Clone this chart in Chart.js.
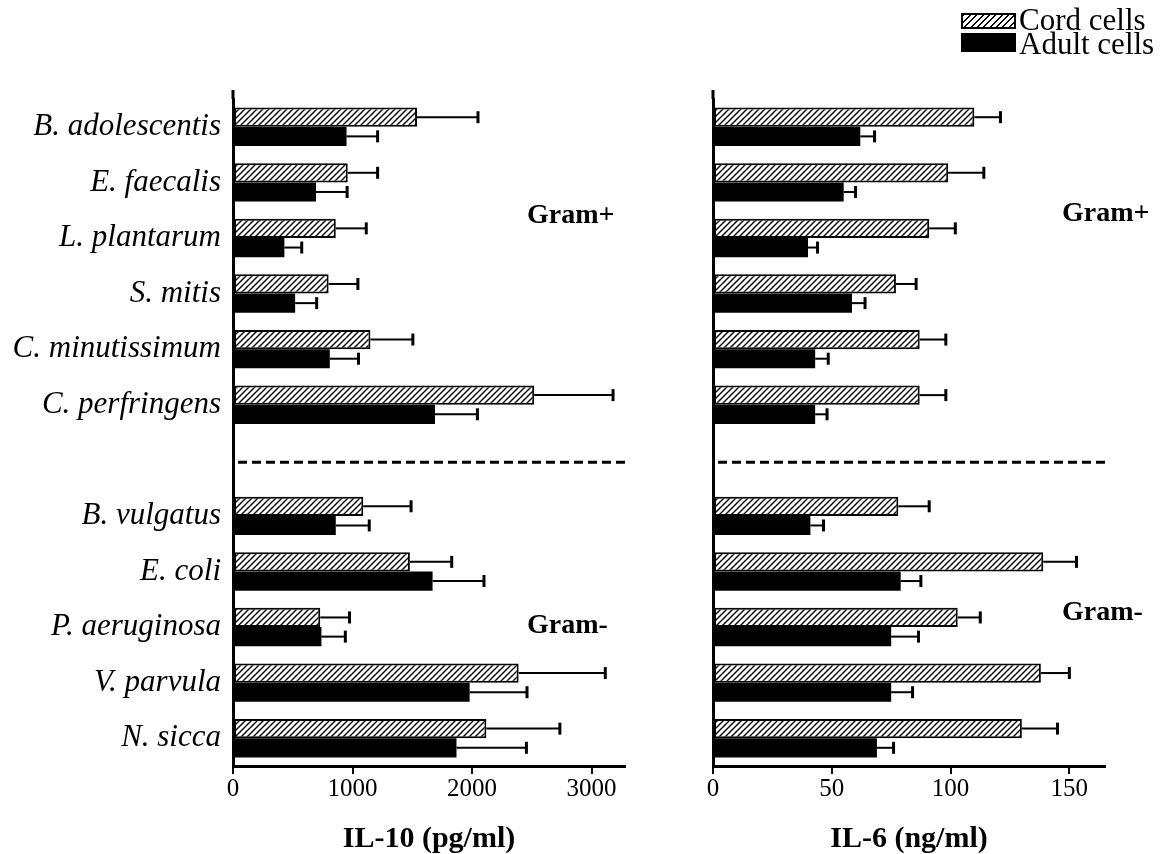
<!DOCTYPE html>
<html>
<head>
<meta charset="utf-8">
<script src="https://cdn.jsdelivr.net/npm/chart.js@4"></script>
<style>
  body { margin: 0; background: #fff; font-family: "Liberation Serif", serif; }
  #wrap { position: relative; width: 1165px; height: 854px; }
  canvas { position: absolute; top: 0; }
  .txt { position: absolute; line-height: 1; white-space: nowrap; color: #000; }
  .gram { font-weight: bold; font-size: 28px; }
  .leg { font-size: 31px; }
  .box { position: absolute; left: 961px; width: 55px; box-sizing: border-box; }
</style>
</head>
<body>
<div id="wrap">
  <canvas id="il10" width="640" height="854" style="left:0"></canvas>
  <canvas id="il6" width="525" height="854" style="left:640px"></canvas>

  <div class="box" style="top:13px;height:16px;border:2px solid #000;background:repeating-linear-gradient(135deg,#000 0 1.4px,#fff 1.4px 4.5px)"></div>
  <div class="txt leg" style="left:1019px;top:4px">Cord cells</div>
  <div class="box" style="top:33px;height:19px;background:#000"></div>
  <div class="txt leg" style="left:1019px;top:28px">Adult cells</div>

  <div class="txt gram" style="left:527px;top:200px">Gram+</div>
  <div class="txt gram" style="left:1062px;top:198px">Gram+</div>
  <div class="txt gram" style="left:527px;top:610px">Gram-</div>
  <div class="txt gram" style="left:1062px;top:597px">Gram-</div>
</div>

<script>
// row 6 is the empty slot where the dashed Gram+/Gram- separator goes
const species = ['B. adolescentis', 'E. faecalis', 'L. plantarum', 'S. mitis', 'C. minutissimum', 'C. perfringens', '',
  'B. vulgatus', 'E. coli', 'P. aeruginosa', 'V. parvula', 'N. sicca']

// IL-10 (pg/ml)
const il10Cord = [1540, 960, 860, 800, 1150, 2520, null, 1090, 1480, 730, 2390, 2120]
const il10CordErr = [510, 250, 255, 245, 355, 660, null, 400, 350, 245, 725, 615]
const il10Adult = [950, 695, 430, 520, 810, 1690, null, 860, 1670, 740, 1980, 1870]
const il10AdultErr = [260, 260, 145, 180, 240, 355, null, 280, 430, 200, 480, 585]
const il10Ticks = [0, 1000, 2000, 3000]

// IL-6 (ng/ml)
const il6Cord = [110, 99, 91, 77, 87, 87, null, 78, 139, 103, 138, 130]
const il6CordErr = [11, 15, 11, 8.5, 11, 11, null, 13, 14, 9.5, 12, 15]
const il6Adult = [62, 55, 40, 58.5, 43, 43, null, 41, 79, 75, 75, 69]
const il6AdultErr = [6, 5, 4, 5.5, 5.5, 5, null, 5.5, 8.5, 11.5, 9, 7]
const il6Ticks = [0, 50, 100, 150]

const serif = 'Liberation Serif'

function hatchPattern(ctx) {
  const c = document.createElement('canvas')
  c.width = 6; c.height = 6
  const g = c.getContext('2d')
  g.fillStyle = '#fff'
  g.fillRect(0, 0, 6, 6)
  g.strokeStyle = '#000'
  g.lineWidth = 1.4
  g.beginPath()
  g.moveTo(0, 6); g.lineTo(6, 0)
  g.moveTo(-1, 1); g.lineTo(1, -1)
  g.moveTo(5, 7); g.lineTo(7, 5)
  g.stroke()
  return ctx.createPattern(c, 'repeat')
}

const errorBars = {
  id: 'errorBars',
  afterDatasetsDraw(chart) {
    const { ctx, chartArea } = chart
    const xs = chart.scales.x, ys = chart.scales.y
    ctx.save()
    ctx.strokeStyle = '#000'
    chart.data.datasets.forEach((ds, i) => {
      chart.getDatasetMeta(i).data.forEach((bar, j) => {
        const v = ds.data[j]
        if (v == null) return
        const xe = xs.getPixelForValue(v + ds.errors[j])
        ctx.lineWidth = 2
        ctx.beginPath(); ctx.moveTo(bar.x, bar.y); ctx.lineTo(xe, bar.y); ctx.stroke()
        ctx.lineWidth = 3
        ctx.beginPath(); ctx.moveTo(xe, bar.y - 6); ctx.lineTo(xe, bar.y + 6); ctx.stroke()
      })
    })
    // dashed line through the empty row
    const yd = ys.getPixelForValue(6) + 2
    ctx.lineWidth = 3
    ctx.setLineDash([9, 5])
    ctx.beginPath(); ctx.moveTo(chartArea.left + 5, yd); ctx.lineTo(chartArea.right, yd); ctx.stroke()
    ctx.setLineDash([])
    // y axis sticks out a little above the first row
    ctx.beginPath(); ctx.moveTo(chartArea.left, chartArea.top - 9); ctx.lineTo(chartArea.left, chartArea.top); ctx.stroke()
    ctx.restore()
  }
}

function makeChart(id, cord, cordErr, adult, adultErr, max, tickValues, title, yWidth, padRight, showLabels) {
  const canvas = document.getElementById(id)
  const ctx = canvas.getContext('2d')
  return new Chart(ctx, {
    type: 'bar',
    data: {
      labels: species,
      datasets: [
        { label: 'Cord cells', data: cord, errors: cordErr, backgroundColor: hatchPattern(ctx),
          borderColor: '#000', borderWidth: 2, borderSkipped: false },
        { label: 'Adult cells', data: adult, errors: adultErr, backgroundColor: '#000',
          borderWidth: 0 }
      ]
    },
    options: {
      indexAxis: 'y',
      responsive: false,
      animation: false,
      categoryPercentage: 0.69,
      barPercentage: 1,
      layout: { padding: { top: 99, right: padRight, left: 0, bottom: 0 } },
      plugins: { legend: { display: false }, tooltip: { enabled: false } },
      scales: {
        y: {
          grid: { display: false, drawTicks: false },
          border: { display: true, color: '#000', width: 3 },
          ticks: {
            display: showLabels, color: '#000', padding: 12,
            font: { family: serif, size: 31, style: 'italic' }
          },
          afterFit: s => { s.width = yWidth }
        },
        x: {
          min: 0, max: max,
          grid: { drawOnChartArea: false, drawTicks: true, tickLength: 8, color: '#000', lineWidth: 2 },
          border: { display: true, color: '#000', width: 3 },
          ticks: { autoSkip: false, maxRotation: 0, color: '#000', padding: 0,
            font: { family: serif, size: 25 }, callback: v => String(v) },
          afterBuildTicks: s => { s.ticks = tickValues.map(v => ({ value: v })) },
          title: {
            display: true, text: title, color: '#000', padding: { top: 0, bottom: 0 },
            font: { family: serif, size: 30, weight: 'bold', lineHeight: 1 }
          },
          afterFit: s => { s.height = 88 }
        }
      }
    },
    plugins: [errorBars]
  })
}

makeChart('il10', il10Cord, il10CordErr, il10Adult, il10AdultErr, 3280, il10Ticks, 'IL-10 (pg/ml)', 233, 15, true)
makeChart('il6', il6Cord, il6CordErr, il6Adult, il6AdultErr, 165, il6Ticks, 'IL-6 (ng/ml)', 73, 60, false)
</script>
</body>
</html>
